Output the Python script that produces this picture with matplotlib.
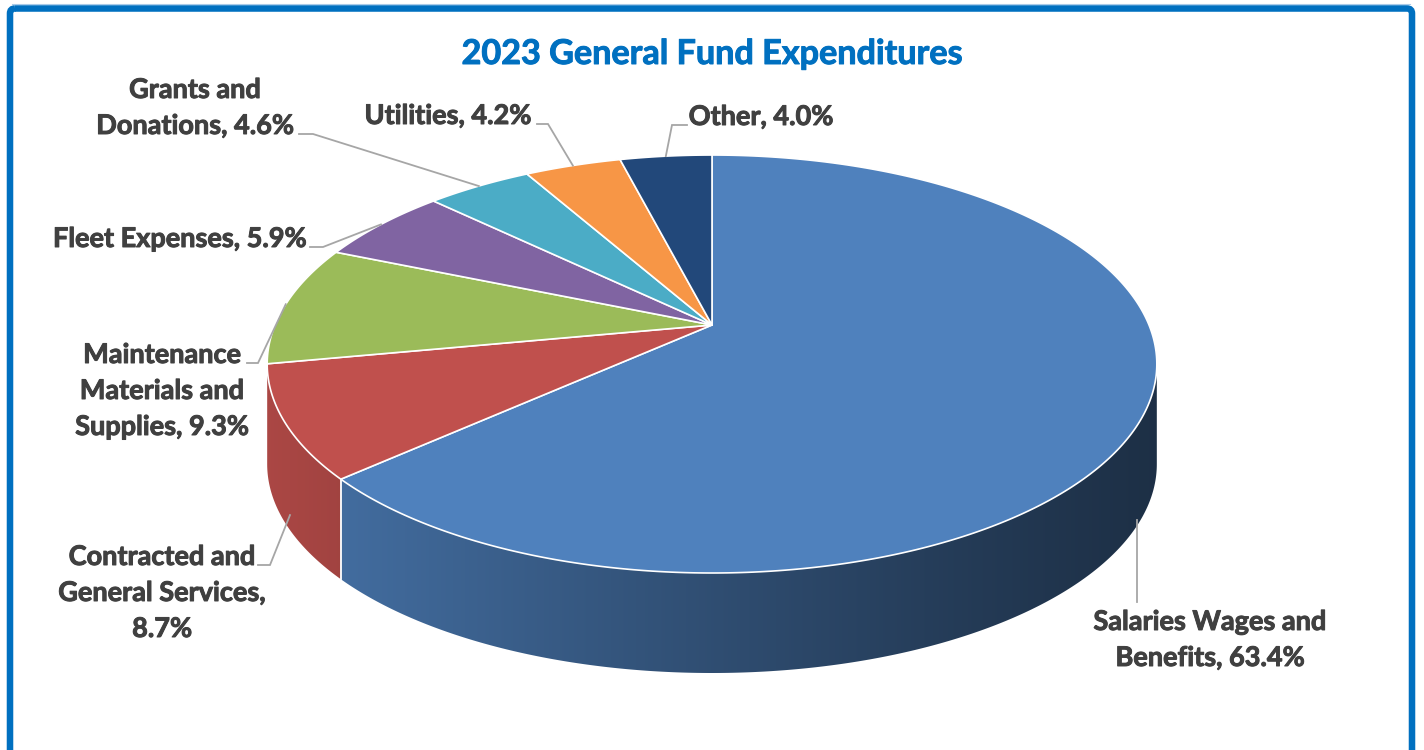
import numpy as np
import matplotlib
matplotlib.use("Agg")
import matplotlib.pyplot as plt
import matplotlib.patheffects as pe
from matplotlib.patches import Polygon, FancyBboxPatch
from matplotlib.colors import to_rgb

# ---- data ----
categories = [
    "Salaries Wages and Benefits",
    "Contracted and General Services",
    "Maintenance Materials and Supplies",
    "Fleet Expenses",
    "Grants and Donations",
    "Utilities",
    "Other",
]
shares = [63.4, 8.7, 9.3, 5.9, 4.6, 4.2, 4.0]
label_formats = [
    "Salaries Wages and\nBenefits, {:.1f}%",
    "Contracted and\nGeneral Services,\n{:.1f}%",
    "Maintenance\nMaterials and\nSupplies, {:.1f}%",
    "Fleet Expenses, {:.1f}%",
    "Grants and\nDonations, {:.1f}%",
    "Utilities, {:.1f}%",
    "Other, {:.1f}%",
]
colors = ["#4F81BD", "#C0504D", "#9BBB59", "#8064A2", "#4BACC6", "#F79646", "#22487A"]
title = "2023 General Fund Expenditures"

# ---- canvas in pixel units ----
W, H = 1424, 750
fig = plt.figure(figsize=(W / 100, H / 100), dpi=100)
ax = fig.add_axes([0, 0, 1, 1])
ax.set_xlim(0, W)
ax.set_ylim(H, 0)
ax.axis("off")

FONT = ["Lato", "DejaVu Sans"]
TEXT_COLOR = "#404040"
LEADER_COLOR = "#A6A6A6"

# ---- perspective projection of the pie disc ----
CX, CY = 712.0, 325.0      # projected pie centre
K = 0.1867                 # perspective strength
A, B = 437.0, 201.7        # horizontal / vertical scale
DEPTH = 100.0              # thickness of the pie in pixels


def project(theta_deg, r=1.0):
    """theta measured clockwise from 12 o'clock on the disc."""
    t = np.radians(theta_deg)
    u = r * np.sin(t)
    v = r * np.cos(t)
    w = 1.0 + K * v
    return CX + A * u / w, CY - B * v / w


vals = np.array(shares, dtype=float)
bounds = np.concatenate([[0.0], np.cumsum(vals) / vals.sum() * 360.0])

# ---- side wall (front half of the rim), shaded left-to-right ----
th_left = 90.0 + np.degrees(np.arcsin(K))
th_right = 270.0 - np.degrees(np.arcsin(K))
xmin, xmax = CX - A / np.sqrt(1 - K ** 2), CX + A / np.sqrt(1 - K ** 2)
gx = np.linspace(xmin, xmax, 900)
shade = 0.37 + 0.52 * (1 - (gx - xmin) / (xmax - xmin)) ** 1.15
ytop = CY - B - 5
ybot = CY + B / (1 - K) + DEPTH + 5

for i, col in enumerate(colors):
    lo = max(bounds[i], th_left)
    hi = min(bounds[i + 1], th_right)
    if hi <= lo:
        continue
    a = np.linspace(lo, hi, 300)
    px, py = project(a)
    pts = list(zip(px, py)) + list(zip(px[::-1], py[::-1] + DEPTH))
    clip = Polygon(pts, closed=True, facecolor="none", edgecolor="none")
    ax.add_patch(clip)
    grad = np.clip(np.array(to_rgb(col))[None, None, :] * shade[None, :, None], 0, 1)
    im = ax.imshow(grad, extent=(xmin, xmax, ybot, ytop), aspect="auto",
                   interpolation="bilinear", zorder=1)
    im.set_clip_path(clip)

# seams where slices meet on the side wall
for b in bounds[(bounds > th_left) & (bounds < th_right)]:
    bx, by = project(b)
    ax.plot([bx, bx], [by, by + DEPTH], color="white", lw=1.3, zorder=2)

# ---- top face ----
for i, col in enumerate(colors):
    a = np.linspace(bounds[i], bounds[i + 1], max(int((bounds[i + 1] - bounds[i]) * 2), 4))
    px, py = project(a)
    pts = [(CX, CY)] + list(zip(px, py))
    ax.add_patch(Polygon(pts, closed=True, facecolor=col, edgecolor="white",
                         lw=1.2, joinstyle="round", zorder=3))

# ---- data labels with leader lines ----
LINE_H = 36
layout = [
    dict(x=1210, base=630, lead=None),
    dict(x=162, base=565, lead=(258, 565, 270)),
    dict(x=162, base=363, lead=(247, 363, 258)),
    dict(x=180, base=247, lead=(310, 247, 323)),
    dict(x=195, base=98, lead=(299, 134, 313)),
    dict(x=448, base=124, lead=(537, 124, 548)),
    dict(x=761, base=125, lead=(687, 125, 672)),
]
# leader anchor on the side wall: (angle shift, fraction of depth)
side_anchor = {0: (3.0, 0.95), 1: (-2.0, 0.85)}
bold_fx = [pe.withStroke(linewidth=0.7, foreground=TEXT_COLOR)]

for i, (fmt, lay) in enumerate(zip(label_formats, layout)):
    text = fmt.format(shares[i])
    for j, line in enumerate(text.split("\n")):
        ax.text(lay["x"], lay["base"] + j * LINE_H, line, ha="center", va="baseline",
                fontsize=19.5, fontweight="bold", color=TEXT_COLOR, family=FONT,
                path_effects=bold_fx, zorder=5)
    mid = 0.5 * (bounds[i] + bounds[i + 1])
    shift, frac = side_anchor.get(i, (0.0, 0.0))
    axp, ayp = project(mid + shift)
    ayp += frac * DEPTH
    if lay["lead"] is None:
        ax.plot([axp, axp], [ayp, lay["base"] - 28], color=LEADER_COLOR, lw=1.3, zorder=4)
    else:
        sx, sy, ex = lay["lead"]
        ax.plot([sx, ex, axp], [sy, sy, ayp], color=LEADER_COLOR, lw=1.3, zorder=4,
                solid_joinstyle="miter")

# ---- title ----
ax.text(712, 64, title, ha="center", va="baseline", fontsize=24.6, fontweight="bold",
        color="#0070C0", family=FONT,
        path_effects=[pe.withStroke(linewidth=0.7, foreground="#0070C0")])

# ---- frame ----
ax.plot([12, 1410], [4, 4], color="#A9CBEA", lw=0.8, zorder=6)
ax.add_patch(FancyBboxPatch((10, 8.5), 1402, 760, boxstyle="round,pad=0,rounding_size=5",
                            fill=False, ec="#0070C0", lw=4.7, zorder=6, clip_on=False))

fig.savefig("out.png", dpi=100, facecolor="white")
